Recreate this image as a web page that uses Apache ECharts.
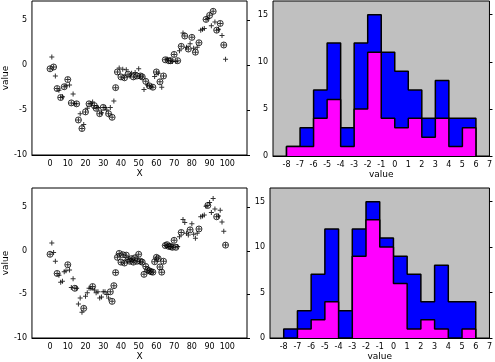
<!DOCTYPE html>
<html><head><meta charset="utf-8">
<script src="https://cdn.jsdelivr.net/npm/echarts@6/dist/echarts.min.js"></script>
<style>html,body{margin:0;padding:0;background:#fff}#c{width:495px;height:362px}</style>
</head><body><div id="c"></div>
<script>
// Scatter data (same 100 points in both scatter panels)
var scatterX = [0,1,2,3,4,5,6,7,8,9,10,11,12,13,14,15,16,17,18,19,20,21,22,23,24,25,26,27,28,29,30,31,32,33,34,35,36,37,38,39,40,41,42,43,44,45,46,47,48,49,50,51,52,53,54,55,56,57,58,59,60,61,62,63,64,65,66,67,68,69,70,71,72,73,74,75,76,77,78,79,80,81,82,83,84,85,86,87,88,89,90,91,92,93,94,95,96,97,98,99];
var scatterY = [-0.4,0.9,-0.2,-1.2,-2.6,-2.8,-3.6,-3.5,-2.4,-2.3,-1.6,-2.2,-4.2,-3.2,-4.3,-4.3,-6.1,-5.4,-7.05,-6.6,-5.2,-4.8,-4.3,-4.3,-4.1,-4.5,-4.8,-4.7,-5.4,-5.3,-4.7,-4.7,-5.0,-5.4,-4.7,-5.8,-4.0,-2.5,-0.75,-0.3,-1.3,-0.45,-1.4,-0.5,-1.0,-1.2,-0.9,-1.3,-0.8,-1.2,-0.4,-1.2,-1.3,-2.7,-1.8,-2.2,-2.3,-2.4,-2.45,-1.25,-0.75,-0.9,-1.85,-2.45,-1.2,0.6,0.7,0.5,0.5,0.4,1.2,0.4,0.5,1.6,2.1,3.6,3.25,2.0,1.8,2.4,3.1,1.9,1.45,2.0,2.5,3.9,4.0,4.1,5.1,5.2,5.55,4.4,6.0,4.8,3.9,4.0,4.65,3.3,2.25,0.65];
// indices of points drawn with a circle
var circleTop = [0,2,4,6,8,10,12,15,16,18,20,22,25,26,28,30,33,35,37,38,40,42,44,47,49,51,52,54,56,58,60,62,64,65,67,68,70,72,74,76,78,80,82,84,88,90,92,94,96,98];
var circleBottom = [0,4,10,14,19,24,34,35,36,37,38,39,40,41,42,43,44,45,46,47,48,49,50,51,52,53,54,55,56,57,58,59,60,61,62,63,64,65,66,67,68,69,70,71,74,79,84,89,94,99];

// Histogram data
var binStarts = [-8,-7,-6,-5,-4,-3,-2,-1,0,1,2,3,4,5];
var countsAll = [1,3,7,12,3,12,15,11,9,7,4,8,4,4];
var countsTop = [1,1,4,6,1,5,11,4,3,4,2,4,1,3];
var countsBottom = [0,1,2,4,0,9,13,10,6,1,2,1,0,1];

var scatterXTicks = [0,10,20,30,40,50,60,70,80,90,100];
var scatterYTicks = [-10,-5,0,5];
var histXTicks = [-8,-7,-6,-5,-4,-3,-2,-1,0,1,2,3,4,5,6,7];
var histYTicks = [0,5,10,15];

var FONT = 'DejaVu Sans';
function pts(){ return scatterX.map(function(x,i){return [x, scatterY[i]];}); }
function sub(idx){ return idx.map(function(i){return [scatterX[i], scatterY[i]];}); }
function steps(counts){
  var d = [[binStarts[0],0]];
  for (var i=0;i<counts.length;i++) d.push([binStarts[i], counts[i]]);
  var last = binStarts[binStarts.length-1]+1;
  d.push([last, counts[counts.length-1]]);
  d.push([last, 0]);
  return d;
}
var PLUS = 'path://M2,0h1v5h-1zM0,2h5v1h-5z';

function xAx(grid, min, max, ticks, name, gap){
  return {type:'value', gridIndex:grid, min:min, max:max, name:name, nameLocation:'middle', nameGap:gap,
    nameTextStyle:{fontFamily:FONT,fontSize:9,color:'#000'},
    axisLine:{show:true,onZero:false,lineStyle:{color:'#000',width:1}}, axisTick:{show:false},
    splitLine:{show:false},
    axisLabel:{customValues:ticks, fontFamily:FONT, fontSize:8, color:'#000', margin:5}};
}
function yAx(grid, min, max, ticks, name, left){
  if (left) return {type:'value', gridIndex:grid, min:min, max:max, position:'left', name:name, nameLocation:'middle', nameGap:17,
    nameTextStyle:{fontFamily:FONT,fontSize:9,color:'#000'},
    axisLine:{show:false,onZero:false}, axisTick:{show:false}, splitLine:{show:false},
    axisLabel:{customValues:ticks, fontFamily:FONT, fontSize:8, color:'#000', margin:5}};
  return {type:'value', gridIndex:grid, min:min, max:max, position:'right',
    axisLine:{show:false,onZero:false}, splitLine:{show:false}, axisLabel:{show:false},
    axisTick:{show:true, customValues:ticks, length:3, inside:false, lineStyle:{color:'#000'}}};
}

var option = {
  animation:false,
  grid:[
    {left:28, top:1, width:219, height:154, show:true, borderColor:'#000', borderWidth:1, backgroundColor:'#fff'},
    {left:273, top:1, width:219, height:155, show:true, borderColor:'#000', borderWidth:1, backgroundColor:'#c0c0c0'},
    {left:28, top:188, width:219, height:151, show:true, borderColor:'#000', borderWidth:1, backgroundColor:'#fff'},
    {left:270, top:188, width:223, height:152, show:true, borderColor:'#000', borderWidth:1, backgroundColor:'#c0c0c0'}
  ],
  xAxis:[
    xAx(0,-10.2,111.1,scatterXTicks,'X',12),
    xAx(1,-9,7,histXTicks,'value',12),
    xAx(2,-10.2,111.1,scatterXTicks,'X',14),
    xAx(3,-9,7,histXTicks,'value',14)
  ],
  yAxis:[
    yAx(0,-10,7.15,scatterYTicks,'value',true),
    yAx(0,-10,7.15,scatterYTicks,'',false),
    yAx(1,0,16.45,histYTicks,'',true),
    yAx(1,0,16.45,histYTicks,'',false),
    yAx(2,-10,7.2,scatterYTicks,'value',true),
    yAx(2,-10,7.2,scatterYTicks,'',false),
    yAx(3,0,16.5,histYTicks,'',true),
    yAx(3,0,16.5,histYTicks,'',false)
  ],
  series:[
    {type:'scatter', xAxisIndex:0, yAxisIndex:0, data:pts(), symbol:PLUS, symbolSize:5, itemStyle:{color:'#000'}},
    {type:'scatter', xAxisIndex:0, yAxisIndex:0, data:sub(circleTop), symbol:'circle', symbolSize:6, itemStyle:{color:'rgba(0,0,0,0)', borderColor:'#000', borderWidth:1}},
    {type:'scatter', xAxisIndex:2, yAxisIndex:4, data:pts(), symbol:PLUS, symbolSize:5, itemStyle:{color:'#000'}},
    {type:'scatter', xAxisIndex:2, yAxisIndex:4, data:sub(circleBottom), symbol:'circle', symbolSize:6, itemStyle:{color:'rgba(0,0,0,0)', borderColor:'#000', borderWidth:1}},
    {type:'line', xAxisIndex:1, yAxisIndex:2, data:steps(countsAll), step:'end', showSymbol:false, symbol:'none', lineStyle:{color:'#000',width:1.5}, areaStyle:{color:'#0000ff',opacity:1}, z:2},
    {type:'line', xAxisIndex:1, yAxisIndex:2, data:steps(countsTop), step:'end', showSymbol:false, symbol:'none', lineStyle:{color:'#000',width:1.5}, areaStyle:{color:'#ff00ff',opacity:1}, z:3},
    {type:'line', xAxisIndex:3, yAxisIndex:6, data:steps(countsAll), step:'end', showSymbol:false, symbol:'none', lineStyle:{color:'#000',width:1.5}, areaStyle:{color:'#0000ff',opacity:1}, z:2},
    {type:'line', xAxisIndex:3, yAxisIndex:6, data:steps(countsBottom), step:'end', showSymbol:false, symbol:'none', lineStyle:{color:'#000',width:1.5}, areaStyle:{color:'#ff00ff',opacity:1}, z:3}
  ]
};
var chart = echarts.init(document.getElementById('c'), null, {renderer:'canvas'});
chart.setOption(option);
</script></body></html>
